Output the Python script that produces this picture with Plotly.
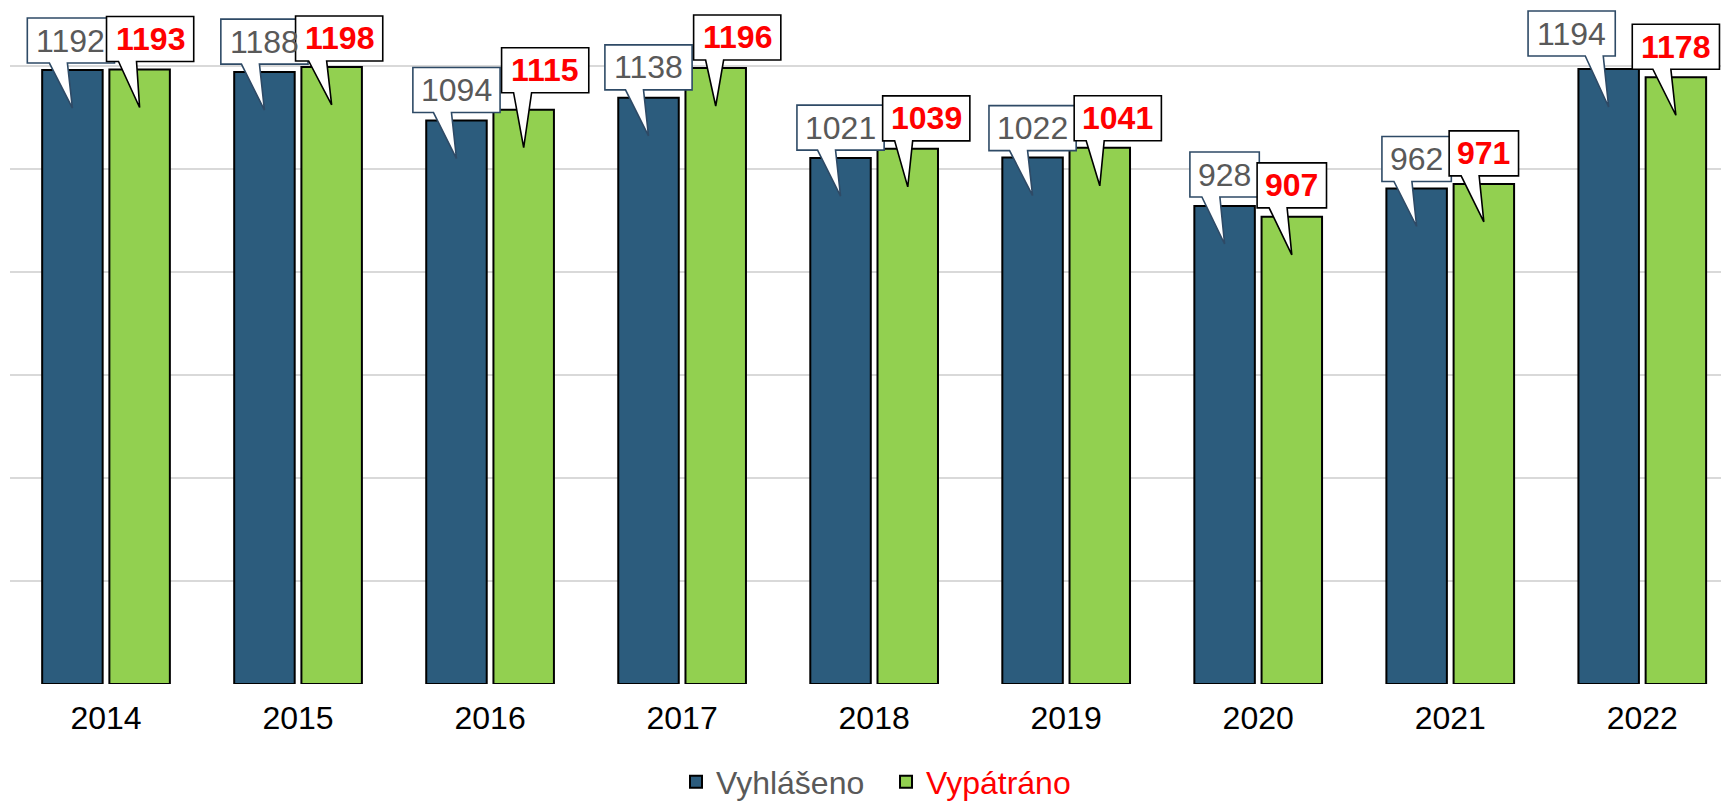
import plotly.graph_objects as go

# data
years = ["2014", "2015", "2016", "2017", "2018", "2019", "2020", "2021", "2022"]
vyhlaseno = [1192, 1188, 1094, 1138, 1021, 1022, 928, 962, 1194]
vypatrano = [1193, 1198, 1115, 1196, 1039, 1041, 907, 971, 1178]

# callout placement (px): horizontal shift of box, gap above bar top
blue_dx = [-1.5, 0, 0, 0, 0, 0, 0, 0, -37]
red_dx = [10.5, 7.5, 21.5, 21.5, 18.5, 18, 0, 0, 0]
blue_gap = [7, 8, 8, 8, 8, 7, 9, 7, 13]
red_gap = [8, 6, 17, 8, 8, 7, 9, 8, 8]

FONT = "Liberation Sans, Arial, sans-serif"
FS = 32
BLUE = "#2C5C7D"
GREEN = "#92D050"
BARGAP = 0.3
xs = list(range(len(years)))

fig = go.Figure()
fig.add_trace(go.Bar(x=xs, y=vyhlaseno, name="Vyhlášeno",
                     marker=dict(color=BLUE, line=dict(color="black", width=2))))
fig.add_trace(go.Bar(x=xs, y=vypatrano,
                     name="<span style='color:#FF0000'>Vypátráno</span>",
                     marker=dict(color=GREEN, line=dict(color="black", width=2))))


def callout(xc, val, dx, gap, text, border, color, bold):
    w = len(text) * 17.8 + 16
    h = 45
    L, R = dx - w / 2, dx + w / 2
    B, T = gap, gap + h
    bl = max(-23, L + 12)
    bl = min(bl, R - 30)
    br = bl + 18
    path = (f"M{L},{B} L{bl},{B} L0,-38 L{br},{B} L{R},{B} "
            f"L{R},{T} L{L},{T} Z")
    fig.add_shape(type="path", path=path, xref="x", yref="y",
                  xsizemode="pixel", ysizemode="pixel",
                  xanchor=xc, yanchor=val, layer="above",
                  fillcolor="white", line=dict(color=border, width=1.6))
    fig.add_annotation(x=xc, y=val, text=f"<b>{text}</b>" if bold else text,
                       showarrow=False, xshift=dx, yshift=gap + h / 2,
                       xanchor="center", yanchor="middle",
                       font=dict(family=FONT, size=FS, color=color))


off = (1 - BARGAP) / 4
for i in xs:
    callout(i - off, vyhlaseno[i], blue_dx[i], blue_gap[i], str(vyhlaseno[i]),
            "#2E4A66", "#595959", False)
    callout(i + off, vypatrano[i], red_dx[i], red_gap[i], str(vypatrano[i]),
            "black", "#FF0000", True)

fig.update_layout(
    width=1721, height=802,
    barmode="group", bargap=BARGAP, bargroupgap=0.1,
    plot_bgcolor="white", paper_bgcolor="white",
    margin=dict(l=10, r=0, t=0, b=118),
    font=dict(family=FONT, size=FS, color="black"),
    showlegend=True,
    legend=dict(orientation="h", xref="container", yref="container",
                x=0.3928, xanchor="left", y=0.025, yanchor="middle",
                entrywidth=165, entrywidthmode="pixels",
                font=dict(family=FONT, size=FS, color="#595959"),
                itemwidth=30, tracegroupgap=0),
)
fig.update_xaxes(range=[-0.5, 8.41], tickvals=xs, ticktext=years,
                 showgrid=False, zeroline=False, showline=False,
                 ticks="outside", ticklen=6, tickcolor="white",
                 tickfont=dict(family=FONT, size=FS, color="black"))
fig.update_yaxes(range=[0, 1328], tickvals=[0, 200, 400, 600, 800, 1000, 1200],
                 showticklabels=False, showgrid=True, gridcolor="#D9D9D9",
                 gridwidth=1.5, zeroline=False)

fig.write_html("out.html", config={"displayModeBar": False},
               post_script="document.body.style.margin='0';"
                           "document.body.style.overflow='hidden';")
